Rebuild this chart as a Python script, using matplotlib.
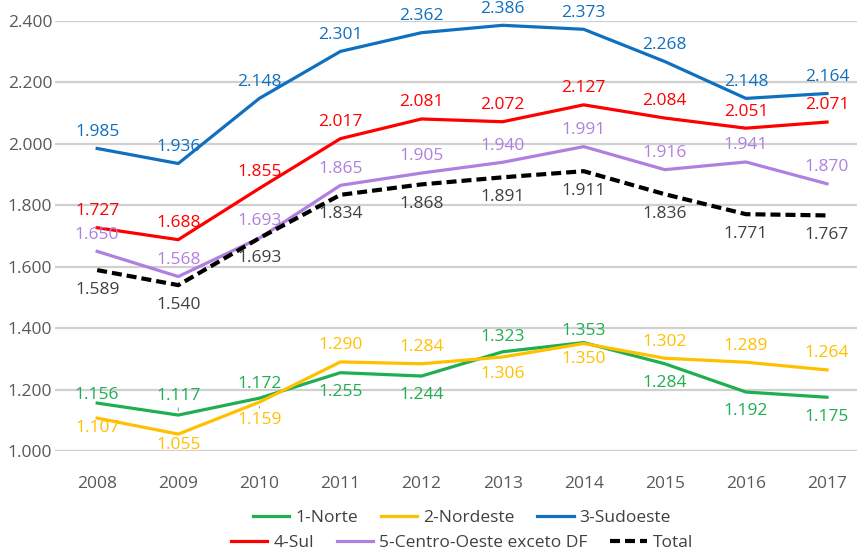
import matplotlib
matplotlib.use("Agg")
import matplotlib.pyplot as plt

plt.rcParams['font.family'] = ['Open Sans', 'DejaVu Sans']

# data
years = [2008, 2009, 2010, 2011, 2012, 2013, 2014, 2015, 2016, 2017]
norte = [1156, 1117, 1172, 1255, 1244, 1323, 1353, 1284, 1192, 1175]
nordeste = [1107, 1055, 1159, 1290, 1284, 1306, 1350, 1302, 1289, 1264]
sudoeste = [1985, 1936, 2148, 2301, 2362, 2386, 2373, 2268, 2148, 2164]
sul = [1727, 1688, 1855, 2017, 2081, 2072, 2127, 2084, 2051, 2071]
centro_oeste = [1650, 1568, 1693, 1865, 1905, 1940, 1991, 1916, 1941, 1870]
total = [1589, 1540, 1693, 1834, 1868, 1891, 1911, 1836, 1771, 1767]
y_ticks = [1000, 1200, 1400, 1600, 1800, 2000, 2200, 2400]

# vertical label offsets in points (positive = above the point)
norte_off = [6, 14, 10, -14, -14, 11, 8, -14, -14, -14]
nordeste_off = [-7, -8, -13, 12, 12, -12, -11, 12, 12, 12]
up_off = [12] * 10
down_off = [-14] * 10
leaders = {('norte', 2009), ('nordeste', 2010)}


def fmt(v):
    return f"{v:,}".replace(",", ".")


fig = plt.figure(figsize=(8.57, 5.51), dpi=100)
ax = fig.add_axes([55 / 857, 0.1815, 1 - 55 / 857, 0.7804])

series = [
    ('norte', '1-Norte', norte, '#1fae50', '-', norte_off, '#1fae50'),
    ('nordeste', '2-Nordeste', nordeste, '#ffc000', '-', nordeste_off, '#ffc000'),
    ('sudoeste', '3-Sudoeste', sudoeste, '#0f70c0', '-', up_off, '#0f70c0'),
    ('sul', '4-Sul', sul, '#ff0000', '-', up_off, '#ff0000'),
    ('centro', '5-Centro-Oeste exceto DF', centro_oeste, '#b080e0', '-', up_off, '#b080e0'),
    ('total', 'Total', total, '#000000', (0, (2.4, 1.2)), down_off, '#404040'),
]

handles = {}
for key, name, vals, color, ls, offs, tcolor in series:
    lw = 3 if key == 'total' else 2.3
    h, = ax.plot(years, vals, color=color, linestyle=ls, linewidth=lw, label=name, zorder=3)
    handles[name] = h
    for x, v, off in zip(years, vals, offs):
        if (key, x) in leaders:
            ax.annotate(fmt(v), (x, v), xytext=(0, off), textcoords='offset points',
                        ha='center', va='center', fontsize=12.5, color=tcolor,
                        arrowprops=dict(arrowstyle='-', color='#999999', lw=0.8,
                                        shrinkA=1, shrinkB=3), zorder=4)
        else:
            ax.annotate(fmt(v), (x, v), xytext=(0, off), textcoords='offset points',
                        ha='center', va='center', fontsize=12.5, color=tcolor, zorder=4)

ax.set_xlim(2007.48, 2017.37)
ax.set_ylim(1000, 2400)
ax.set_yticks(y_ticks)
ax.set_yticklabels([fmt(t) for t in y_ticks])
ax.set_xticks(years)
ax.tick_params(axis='both', length=0, labelsize=12.5, labelcolor='#595959')
ax.tick_params(axis='x', pad=18)
ax.tick_params(axis='y', pad=2)
ax.grid(axis='y', color='#d0d0d0', linewidth=1.6)
ax.set_axisbelow(True)
for s in ax.spines.values():
    s.set_visible(False)

row1 = ['1-Norte', '2-Nordeste', '3-Sudoeste']
row2 = ['4-Sul', '5-Centro-Oeste exceto DF', 'Total']
for names, yc in [(row1, 518), (row2, 543)]:
    fig.legend([handles[n] for n in names], names, ncol=3, loc='center',
               bbox_to_anchor=(462 / 857, 1 - yc / 551), frameon=False,
               fontsize=12.5, handlelength=2.1, handletextpad=0.35,
               columnspacing=1.3, borderpad=0, labelcolor='#404040')

fig.savefig('out.png', dpi=100)
